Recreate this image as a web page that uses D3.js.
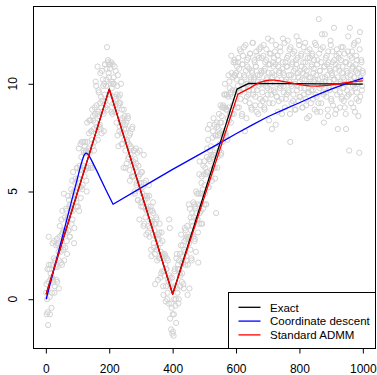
<!DOCTYPE html>
<html>
<head>
<meta charset="utf-8">
<script src="https://cdn.jsdelivr.net/npm/d3@7"></script>
<style>
  html, body { margin: 0; padding: 0; background: #fff; }
  svg { display: block; font-family: "Liberation Sans", Arial, Helvetica, sans-serif; }
</style>
</head>
<body>
<svg id="chart" width="377" height="375"></svg>
<script>
// Observed samples: odd positions first, then even positions
const obsX = [
  1,3,5,7,9,11,13,15,17,19,21,23,25,27,29,31,33,35,37,39,
  41,43,45,47,49,51,53,55,57,59,61,63,65,67,69,71,73,75,77,79,
  81,83,85,87,89,91,93,95,97,99,101,103,105,107,109,111,113,115,117,119,
  121,123,125,127,129,131,133,135,137,139,141,143,145,147,149,151,153,155,157,159,
  161,163,165,167,169,171,173,175,177,179,181,183,185,187,189,191,193,195,197,199,
  201,203,205,207,209,211,213,215,217,219,221,223,225,227,229,231,233,235,237,239,
  241,243,245,247,249,251,253,255,257,259,261,263,265,267,269,271,273,275,277,279,
  281,283,285,287,289,291,293,295,297,299,301,303,305,307,309,311,313,315,317,319,
  321,323,325,327,329,331,333,335,337,339,341,343,345,347,349,351,353,355,357,359,
  361,363,365,367,369,371,373,375,377,379,381,383,385,387,389,391,393,395,397,399,
  401,403,405,407,409,411,413,415,417,419,421,423,425,427,429,431,433,435,437,439,
  441,443,445,447,449,451,453,455,457,459,461,463,465,467,469,471,473,475,477,479,
  481,483,485,487,489,491,493,495,497,499,501,503,505,507,509,511,513,515,517,519,
  521,523,525,527,529,531,533,535,537,539,541,543,545,547,549,551,553,555,557,559,
  561,563,565,567,569,571,573,575,577,579,581,583,585,587,589,591,593,595,597,599,
  601,603,605,607,609,611,613,615,617,619,621,623,625,627,629,631,633,635,637,639,
  641,643,645,647,649,651,653,655,657,659,661,663,665,667,669,671,673,675,677,679,
  681,683,685,687,689,691,693,695,697,699,701,703,705,707,709,711,713,715,717,719,
  721,723,725,727,729,731,733,735,737,739,741,743,745,747,749,751,753,755,757,759,
  761,763,765,767,769,771,773,775,777,779,781,783,785,787,789,791,793,795,797,799,
  801,803,805,807,809,811,813,815,817,819,821,823,825,827,829,831,833,835,837,839,
  841,843,845,847,849,851,853,855,857,859,861,863,865,867,869,871,873,875,877,879,
  881,883,885,887,889,891,893,895,897,899,901,903,905,907,909,911,913,915,917,919,
  921,923,925,927,929,931,933,935,937,939,941,943,945,947,949,951,953,955,957,959,
  961,963,965,967,969,971,973,975,977,979,981,983,985,987,989,991,993,995,997,999,
  2,4,6,8,10,12,14,16,18,20,22,24,26,28,30,32,34,36,38,40,
  42,44,46,48,50,52,54,56,58,60,62,64,66,68,70,72,74,76,78,80,
  82,84,86,88,90,92,94,96,98,100,102,104,106,108,110,112,114,116,118,120,
  122,124,126,128,130,132,134,136,138,140,142,144,146,148,150,152,154,156,158,160,
  162,164,166,168,170,172,174,176,178,180,182,184,186,188,190,192,194,196,198,200,
  202,204,206,208,210,212,214,216,218,220,222,224,226,228,230,232,234,236,238,240,
  242,244,246,248,250,252,254,256,258,260,262,264,266,268,270,272,274,276,278,280,
  282,284,286,288,290,292,294,296,298,300,302,304,306,308,310,312,314,316,318,320,
  322,324,326,328,330,332,334,336,338,340,342,344,346,348,350,352,354,356,358,360,
  362,364,366,368,370,372,374,376,378,380,382,384,386,388,390,392,394,396,398,400,
  402,404,406,408,410,412,414,416,418,420,422,424,426,428,430,432,434,436,438,440,
  442,444,446,448,450,452,454,456,458,460,462,464,466,468,470,472,474,476,478,480,
  482,484,486,488,490,492,494,496,498,500,502,504,506,508,510,512,514,516,518,520,
  522,524,526,528,530,532,534,536,538,540,542,544,546,548,550,552,554,556,558,560,
  562,564,566,568,570,572,574,576,578,580,582,584,586,588,590,592,594,596,598,600,
  602,604,606,608,610,612,614,616,618,620,622,624,626,628,630,632,634,636,638,640,
  642,644,646,648,650,652,654,656,658,660,662,664,666,668,670,672,674,676,678,680,
  682,684,686,688,690,692,694,696,698,700,702,704,706,708,710,712,714,716,718,720,
  722,724,726,728,730,732,734,736,738,740,742,744,746,748,750,752,754,756,758,760,
  762,764,766,768,770,772,774,776,778,780,782,784,786,788,790,792,794,796,798,800,
  802,804,806,808,810,812,814,816,818,820,822,824,826,828,830,832,834,836,838,840,
  842,844,846,848,850,852,854,856,858,860,862,864,866,868,870,872,874,876,878,880,
  882,884,886,888,890,892,894,896,898,900,902,904,906,908,910,912,914,916,918,920,
  922,924,926,928,930,932,934,936,938,940,942,944,946,948,950,952,954,956,958,960,
  962,964,966,968,970,972,974,976,978,980,982,984,986,988,990,992,994,996,998,1000
];
const obsY = [
  0.3,-0.7,1.4,-1.2,2.9,1.4,-0.7,1.2,1.0,0.3,2.6,0.9,1.9,0.3,1.8,1.5,0.9,2.8,1.5,2.5,
  0.5,2.9,2.4,2.2,3.7,1.6,3.1,2.3,4.9,3.2,2.4,3.2,4.1,2.1,3.8,3.2,4.6,2.9,4.4,4.1,
  3.5,5.5,4.1,5.0,2.6,4.8,5.4,4.3,4.8,6.1,4.3,5.6,4.1,6.2,7.2,5.2,7.3,5.1,6.2,6.9,
  6.1,7.1,6.0,6.9,5.0,7.3,6.1,7.0,8.3,6.8,6.2,7.8,7.4,6.1,8.5,7.9,7.3,8.6,10.1,9.9,
  8.0,10.8,8.7,9.6,8.0,9.1,7.9,8.9,10.6,8.7,9.9,7.8,9.5,10.9,8.9,10.2,11.7,8.8,11.0,10.3,
  9.5,10.9,10.0,8.7,10.1,10.9,9.1,10.0,10.8,9.0,9.3,8.2,9.9,10.4,7.1,9.1,8.0,9.1,10.0,7.2,
  8.4,7.7,6.1,7.9,8.5,6.9,7.9,6.3,7.3,8.4,6.6,7.6,5.5,6.7,7.0,5.7,8.0,6.2,5.7,6.9,
  4.9,6.1,6.3,5.4,6.8,4.6,5.7,3.7,5.8,5.1,4.3,5.9,4.9,4.3,6.7,3.5,4.8,4.2,3.0,4.8,
  4.2,3.4,5.3,2.9,3.7,4.3,2.0,3.6,3.0,4.0,2.4,3.5,0.7,2.9,3.7,1.8,2.4,3.0,1.9,3.5,
  1.0,2.2,3.1,1.3,2.1,0.2,1.3,2.1,1.6,0.6,1.4,0.0,1.8,0.8,3.7,3.3,1.0,-1.4,-0.4,-1.6,
  -1.5,-1.7,0.0,1.4,-0.3,-1.1,2.1,0.3,1.6,0.0,1.4,2.1,1.1,3.0,0.8,2.0,1.7,0.5,2.7,2.2,
  3.2,1.8,2.9,0.2,2.8,4.4,0.5,2.9,3.8,1.9,3.6,3.0,4.5,3.8,2.7,4.3,2.2,4.0,4.9,3.7,
  1.7,3.5,6.4,4.4,4.1,5.4,3.5,5.1,6.2,4.4,5.3,6.1,4.4,5.9,7.0,7.9,5.2,6.5,8.1,6.4,
  7.1,6.0,6.6,7.8,8.4,6.7,6.1,7.6,4.0,8.2,6.1,7.6,7.9,6.9,7.7,9.0,6.8,8.5,7.8,9.0,
  7.7,9.5,10.0,7.7,8.8,9.5,7.4,9.4,8.9,10.1,8.6,9.6,11.3,8.6,9.7,10.3,8.6,11.1,10.4,9.7,
  9.3,10.8,9.9,11.2,8.9,10.4,9.6,11.5,10.1,8.6,10.9,9.8,11.7,10.3,9.2,10.6,8.4,11.1,10.0,9.5,
  10.7,9.1,11.4,10.2,8.8,10.5,11.9,9.7,10.3,11.0,9.4,10.8,8.7,11.3,10.1,9.9,11.6,10.4,9.0,10.6,
  11.2,9.6,10.0,11.8,8.9,10.7,9.3,11.1,10.2,9.8,12.1,10.5,9.1,10.9,11.4,9.5,7.9,10.3,11.0,9.7,
  10.4,11.5,8.1,10.0,9.4,11.3,10.8,9.2,10.6,11.7,9.9,10.2,8.6,11.0,10.5,9.6,11.9,10.1,9.3,10.8,
  11.2,12.0,9.7,10.4,11.6,7.3,10.0,9.1,10.9,11.4,9.5,10.3,8.8,10.7,11.1,12.2,9.9,10.5,9.2,11.8,
  10.1,9.4,11.3,10.8,8.9,10.5,11.7,9.8,10.2,11.0,9.0,10.6,11.5,9.6,10.3,8.5,11.2,10.0,9.7,10.9,
  11.4,9.3,10.7,10.1,11.9,9.5,10.4,8.7,11.1,10.2,13.0,9.8,10.6,11.6,9.1,12.3,10.0,9.6,8.2,10.8,
  10.3,11.2,9.4,10.9,8.8,11.5,10.1,9.7,10.6,11.8,9.2,10.4,11.0,9.9,12.6,10.2,8.6,10.7,11.3,9.5,
  7.9,10.8,11.4,9.6,10.0,11.1,9.3,10.5,11.7,9.8,10.2,8.9,11.0,7.9,10.6,9.4,11.5,10.1,6.9,12.6,
  10.4,9.1,11.2,10.7,9.9,11.8,10.0,8.7,10.9,11.3,9.6,10.5,12.0,9.2,6.8,12.4,10.3,11.1,9.7,10.6,
  0.7,0.0,-0.6,0.8,1.6,0.1,0.9,1.6,-0.4,1.0,1.6,0.8,2.7,0.6,1.8,2.5,1.6,0.8,2.6,2.2,
  1.8,3.4,2.4,1.7,3.0,4.1,2.5,3.2,1.8,3.8,3.1,4.2,2.7,3.7,4.8,3.2,4.3,2.9,4.1,5.1,
  4.8,3.7,5.9,4.6,3.3,5.0,5.6,4.5,6.1,4.3,5.6,7.0,5.2,6.0,4.7,6.6,6.0,5.3,7.3,6.8,
  5.7,7.3,6.8,5.5,8.2,6.8,6.1,7.7,6.9,8.3,6.1,7.8,8.8,7.1,8.3,6.9,8.9,8.2,7.7,9.0,
  8.6,7.4,9.7,8.5,8.1,10.5,9.4,7.7,9.2,10.2,8.6,10.0,10.9,9.2,9.9,10.7,9.0,11.1,10.5,10.9,
  10.7,9.5,11.0,9.8,8.6,10.0,10.3,8.7,9.4,10.6,8.7,9.5,7.6,9.0,9.4,7.8,9.5,8.3,7.7,8.8,
  7.2,8.2,8.8,7.4,8.1,6.1,8.2,7.4,8.5,6.5,7.2,6.0,7.7,7.1,6.4,7.9,5.7,6.4,6.9,5.0,
  6.5,7.0,5.3,5.9,4.6,6.2,5.4,6.9,4.5,5.4,5.9,4.5,5.2,3.4,5.4,4.6,3.8,5.5,4.1,4.7,
  3.1,4.3,4.8,3.3,4.1,2.3,3.5,4.1,4.5,2.6,3.2,2.1,3.5,3.8,2.3,2.8,0.9,2.8,3.1,1.9,
  2.6,1.2,2.0,2.7,0.6,1.9,1.1,2.0,-0.1,1.4,1.9,0.3,0.9,-0.2,1.1,-0.9,0.6,-0.2,1.0,-0.7,
  0.5,-0.7,1.3,0.6,0.0,1.9,0.5,1.4,-0.2,1.8,1.2,0.6,2.5,1.7,1.2,2.5,0.7,2.3,3.3,1.6,
  2.8,2.0,3.4,1.6,2.9,2.6,4.2,2.3,3.2,1.8,4.0,3.4,2.9,4.4,2.8,4.2,5.0,3.7,4.4,3.1,
  4.9,5.8,4.0,4.9,3.5,5.7,4.9,4.2,5.8,6.4,4.9,5.8,4.4,6.6,5.9,7.4,5.2,6.5,6.9,5.7,
  6.7,5.5,7.5,6.7,6.1,8.1,5.6,7.6,7.0,8.0,6.6,7.6,8.6,7.2,8.2,6.7,8.2,8.9,7.3,8.9,
  7.7,9.5,8.9,7.6,9.5,8.8,8.4,10.4,8.3,9.8,9.5,8.2,10.5,9.4,9.0,11.0,10.4,9.6,11.0,10.5,
  10.2,8.9,11.0,9.6,10.7,11.6,9.3,10.1,8.5,10.9,11.3,9.8,10.4,7.8,11.8,10.0,9.4,10.8,11.2,9.7,
  9.9,11.4,10.3,8.9,10.6,11.9,9.5,10.2,11.1,9.0,10.8,11.5,9.7,10.4,8.6,11.2,10.0,9.3,11.7,10.5,
  10.1,9.2,11.3,10.6,8.8,11.0,9.9,11.6,10.3,9.5,10.9,8.3,11.4,10.0,9.7,12.0,10.5,9.1,10.8,11.2,
  9.6,10.9,11.8,9.4,10.2,8.7,11.1,10.5,9.8,11.5,10.0,9.3,10.7,12.1,9.9,10.4,8.9,11.0,10.2,9.5,
  10.8,11.3,9.6,10.1,8.6,11.7,10.4,9.9,11.0,9.2,10.6,11.5,10.0,8.8,10.9,9.7,11.2,10.3,12.0,9.4,
  10.6,9.8,11.4,10.2,8.9,11.0,9.5,10.7,11.9,9.3,10.4,8.4,11.2,10.0,9.6,11.6,10.3,9.1,10.8,11.3,
  9.7,10.5,11.1,8.8,10.2,11.8,9.4,10.9,10.0,9.1,11.4,10.6,8.7,11.0,9.9,10.3,11.7,9.5,10.8,12.3,
  10.1,9.6,11.3,10.4,8.5,11.0,9.8,10.7,12.0,9.3,10.5,11.5,9.0,10.2,11.1,9.7,10.9,8.8,11.6,10.3,
  9.9,11.2,10.6,8.9,10.1,11.7,9.4,10.8,10.3,9.2,11.4,10.0,8.6,11.0,9.7,10.5,12.2,9.5,10.9,11.3,
  10.2,9.6,11.5,10.8,8.9,10.3,11.9,9.8,10.6,9.3,11.1,10.0,8.5,10.7,11.6,9.4,10.2,11.0,9.9,10.5
];

// Fitted curves
const exactX = [1, 200, 400, 603, 640, 1000];
const exactY = [0.23, 9.75, 0.23, 9.75, 10.02, 9.98];

const cdX = [1, 60, 110, 115, 119, 123, 127, 132, 137, 143, 160, 190, 212, 300, 400, 551, 600, 650, 700, 750, 800, 850, 900, 950, 1000];
const cdY = [0, 3.35, 6.2, 6.45, 6.63, 6.74, 6.78, 6.74, 6.64, 6.48, 5.98, 5.06, 4.41, 5.17, 6.03, 7.27, 7.68, 8.08, 8.47, 8.8, 9.12, 9.45, 9.75, 10.02, 10.26];

const admmX = [1, 200, 400, 606, 625, 643, 660, 674, 690, 706, 722, 738, 769, 800, 830, 857, 890, 920, 952, 980, 1000];
const admmY = [0.23, 9.75, 0.23, 9.52, 9.66, 9.8, 9.95, 10.06, 10.13, 10.17, 10.17, 10.14, 10.05, 9.96, 9.9, 9.89, 9.93, 9.99, 10.06, 10.11, 10.14];

const xTicks = [0, 200, 400, 600, 800, 1000];
const yTicks = [0, 5, 10];
const seriesNames = ["Exact", "Coordinate descent", "Standard ADMM"];
const seriesColors = ["#000000", "#0000ff", "#ff0000"];

const svg = d3.select("#chart");
const box = { left: 33.5, right: 375.5, top: 6.5, bottom: 348.5 };

// Axis ranges padded by 4% on each side
function padded(ext) {
  const d = (ext[1] - ext[0]) * 0.04;
  return [ext[0] - d, ext[1] + d];
}
const x = d3.scaleLinear().domain(padded(d3.extent(obsX))).range([box.left, box.right]);
const y = d3.scaleLinear().domain(padded(d3.extent(obsY))).range([box.bottom, box.top]);

// Scatter of observations
svg.append("g")
  .selectAll("circle")
  .data(obsX.map((v, i) => [v, obsY[i]]))
  .join("circle")
  .attr("cx", d => x(d[0]))
  .attr("cy", d => y(d[1]))
  .attr("r", 2.6)
  .attr("fill", "none")
  .attr("stroke", "#d3d3d3")
  .attr("stroke-width", 1);

// Fitted lines
const line = d3.line().x(d => x(d[0])).y(d => y(d[1]));
const curves = [
  exactX.map((v, i) => [v, exactY[i]]),
  cdX.map((v, i) => [v, cdY[i]]),
  admmX.map((v, i) => [v, admmY[i]])
];
curves.forEach((pts, k) => {
  svg.append("path")
    .datum(pts)
    .attr("d", line)
    .attr("fill", "none")
    .attr("stroke", seriesColors[k])
    .attr("stroke-width", 1.3)
    .attr("stroke-linejoin", "round");
});

// Bottom axis
const xAxis = svg.append("g")
  .attr("transform", `translate(0,${box.bottom})`)
  .call(d3.axisBottom(x).tickValues(xTicks).tickSize(5).tickPadding(10.5).tickFormat(d3.format("d")));
xAxis.select(".domain").remove();
xAxis.selectAll("line").attr("stroke", "#000");
xAxis.selectAll("text").attr("font-size", 12).attr("fill", "#000")
  .attr("font-family", "'Liberation Sans', Arial, sans-serif");

// Left axis with rotated labels
const yAxis = svg.append("g")
  .attr("transform", `translate(${box.left},0)`)
  .call(d3.axisLeft(y).tickValues(yTicks).tickSize(5).tickFormat(() => ""));
yAxis.select(".domain").remove();
yAxis.selectAll("line").attr("stroke", "#000");
svg.append("g").selectAll("text")
  .data(yTicks)
  .join("text")
  .attr("transform", d => `translate(17,${y(d)}) rotate(-90)`)
  .attr("text-anchor", "middle")
  .attr("font-size", 12)
  .attr("fill", "#000")
  .text(d => d);

// Plot frame
svg.append("rect")
  .attr("x", box.left).attr("y", box.top)
  .attr("width", box.right - box.left).attr("height", box.bottom - box.top)
  .attr("fill", "none").attr("stroke", "#000").attr("stroke-width", 1);

// Legend in the bottom-right corner
const legW = 147, legH = 56, rowH = 13.8;
const leg = svg.append("g").attr("transform", `translate(${box.right - legW},${box.bottom - legH})`);
leg.append("rect")
  .attr("width", legW).attr("height", legH)
  .attr("fill", "#fff").attr("stroke", "#000").attr("stroke-width", 1);
seriesNames.forEach((name, i) => {
  const cy = 14.8 + i * rowH;
  leg.append("line")
    .attr("x1", 10).attr("x2", 32)
    .attr("y1", cy).attr("y2", cy)
    .attr("stroke", seriesColors[i]).attr("stroke-width", 1.3);
  leg.append("text")
    .attr("x", 41.5).attr("y", cy + 4.2)
    .attr("font-size", 11.5).attr("fill", "#000")
    .text(name);
});
</script>
</body>
</html>
